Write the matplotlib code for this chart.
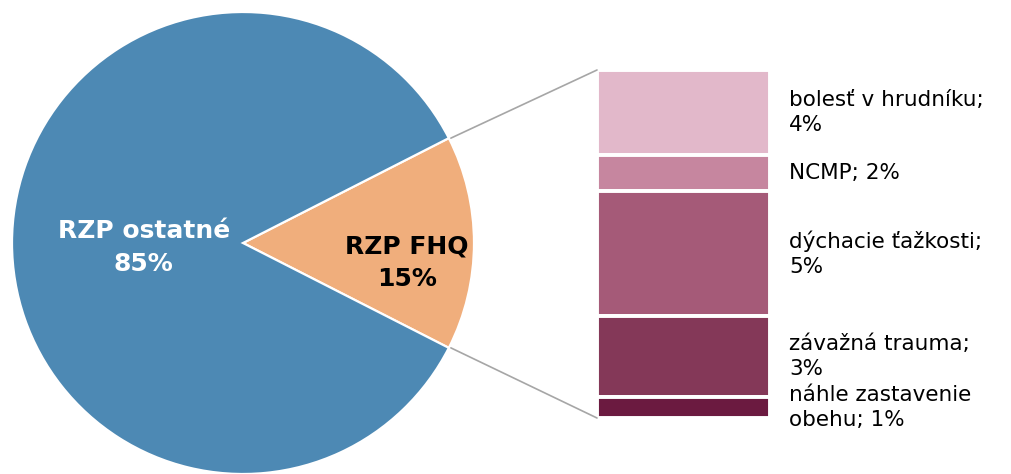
import numpy as np
import matplotlib
matplotlib.use("Agg")
import matplotlib.pyplot as plt
from matplotlib.patches import ConnectionPatch

# pie data
pie_labels = ["RZP FHQ", "RZP ostatné"]
pie_values = [15, 85]
pie_colors = ["#F0AE7C", "#4D89B4"]

# breakdown of the FHQ slice (top to bottom)
sub_labels = ["bolesť v hrudníku;\n4%", "NCMP; 2%", "dýchacie ťažkosti;\n5%",
              "závažná trauma;\n3%", "náhle zastavenie\nobehu; 1%"]
sub_values = [3.66, 1.55, 5.39, 3.49, 0.91]
sub_colors = ["#E2B8CA", "#C6869F", "#A55A78", "#843858", "#6B1A40"]

W, H = 1011, 474
fig = plt.figure(figsize=(W / 100, H / 100), dpi=100)

# pie axes: centre (243, 243) px, radius 231 px
cx, cy, r = 243, 243, 231
ax = fig.add_axes([(cx - r) / W, (H - cy - r) / H, 2 * r / W, 2 * r / H])
half = pie_values[0] / 100 * 360 / 2
ax.pie(pie_values, colors=pie_colors, startangle=-half, counterclock=True,
       wedgeprops=dict(edgecolor="white", linewidth=1.6))
ax.set_xlim(-1, 1)
ax.set_ylim(-1, 1)
ax.set_aspect("auto")
ax.axis("off")

ax.text(0.71, -0.085, f"{pie_labels[0]}\n{pie_values[0]}%", ha="center", va="center",
        fontsize=18, fontweight="bold", color="black", linespacing=1.45)
ax.text(-0.43, -0.02, f"{pie_labels[1]}\n{pie_values[1]}%", ha="center", va="center",
        fontsize=18, fontweight="bold", color="white", linespacing=1.45)

# stacked bar
bx0, bx1, by0, by1 = 597, 770, 70, 418
bax = fig.add_axes([bx0 / W, (H - by1) / H, (bx1 - bx0) / W, (by1 - by0) / H])
total = sum(sub_values)
top = total
for lab, v, c in zip(sub_labels, sub_values, sub_colors):
    bax.bar(0.5, v, bottom=top - v, width=1, color=c, edgecolor="white", linewidth=2.8)
    bax.text(1.11, top - v / 2, lab, ha="left", va="center", fontsize=15.5,
             color="black", linespacing=1.3, clip_on=False)
    top -= v
bax.set_xlim(0, 1)
bax.set_ylim(0, total)
bax.axis("off")

# connector lines
a = np.deg2rad(half)
for sgn, yb in [(1, total), (-1, 0)]:
    con = ConnectionPatch(xyA=(np.cos(a) * 1.01, sgn * np.sin(a) * 1.0), coordsA=ax.transData,
                          xyB=(0, yb), coordsB=bax.transData, color="#A6A6A6", lw=1.2)
    fig.add_artist(con)

fig.savefig("out.png", dpi=100, facecolor="white")
